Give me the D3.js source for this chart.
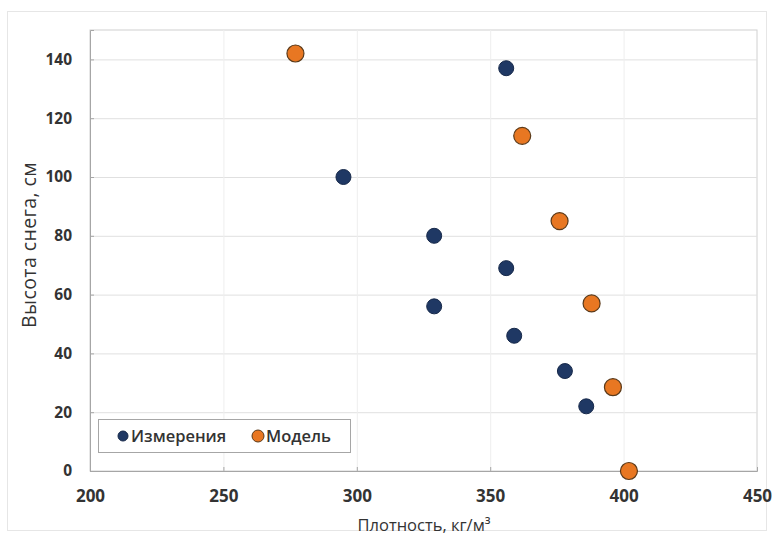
<!DOCTYPE html>
<html><head><meta charset="utf-8">
<script src="https://cdn.jsdelivr.net/npm/d3@7"></script>
<style>body{margin:0;background:#fff}svg{display:block}</style>
</head><body>
<svg id="c" width="775" height="540"></svg>
<script>
const measDensity = [356, 295, 329, 356, 329, 359, 378, 386];
const measHeight  = [137, 100, 80, 69, 56, 46, 34, 22];
const modelDensity = [277, 362, 376, 388, 396, 402];
const modelHeight  = [142, 114, 85, 57, 28.5, 0];
const xTicks = [200, 250, 300, 350, 400, 450];
const yTicks = [0, 20, 40, 60, 80, 100, 120, 140];
const seriesNames = ["Измерения", "Модель"];
const xTitle = "Плотность, кг/м³";
const yTitle = "Высота снега, см";

const svg = d3.select("#c");
const font = "'Open Sans', 'Noto Sans', sans-serif";
const L = 90, R = 757, T = 30, B = 471;
const x = d3.scaleLinear().domain([200, 450]).range([L, R]);
const y = d3.scaleLinear().domain([0, 150]).range([B, T]);

// outer chart border
svg.append("rect").attr("x", 7.5).attr("y", 11.5).attr("width", 759).attr("height", 519)
  .attr("fill", "#fff").attr("stroke", "#e6e6e6");

// plot area
svg.append("rect").attr("x", L).attr("y", T).attr("width", R - L).attr("height", B - T)
  .attr("fill", "none").attr("stroke", "#d0d0d0");

// grid
const g = svg.append("g");
g.selectAll(".hg").data(yTicks.filter(d => d > 0)).enter().append("line")
  .attr("x1", L).attr("x2", R).attr("y1", d => y(d) + 0.5).attr("y2", d => y(d) + 0.5)
  .attr("stroke", "#e0e0e0");
g.selectAll(".vg").data(xTicks.filter(d => d > 200 && d < 450)).enter().append("line")
  .attr("y1", T).attr("y2", B).attr("x1", d => x(d) + 0.5).attr("x2", d => x(d) + 0.5)
  .attr("stroke", "#eeeeee");

// axes
const xAxis = d3.axisBottom(x).tickValues(xTicks).tickSize(-4).tickPadding(19);
const yAxis = d3.axisLeft(y).tickValues(yTicks).tickSize(-4).tickPadding(18);
const xa = svg.append("g").attr("transform", `translate(0,${B})`).call(xAxis);
const ya = svg.append("g").attr("transform", `translate(${L},0)`).call(yAxis);
[xa, ya].forEach(a => {
  a.select(".domain").attr("stroke", "#a6a6a6");
  a.selectAll(".tick line").attr("stroke", "#a6a6a6");
  a.selectAll("text").attr("font-family", font)
    .attr("font-weight", "bold").attr("fill", "#333");
});
xa.selectAll("text").attr("font-size", 17);
ya.selectAll("text").attr("font-size", 15.5);

// titles
svg.append("text").attr("x", 424).attr("y", 531).attr("text-anchor", "middle")
  .attr("font-family", font).attr("font-size", 16.5).attr("fill", "#333").text(xTitle);
svg.append("text").attr("transform", `translate(36,245) rotate(-90)`)
  .attr("text-anchor", "middle").attr("font-family", font).attr("font-size", 19.5)
  .attr("letter-spacing", 0.4).attr("fill", "#333").text(yTitle);

// points
const meas = measDensity.map((d, i) => ({x: d, y: measHeight[i]}));
const model = modelDensity.map((d, i) => ({x: d, y: modelHeight[i]}));
svg.append("g").selectAll("circle").data(meas).enter().append("circle")
  .attr("cx", d => x(d.x)).attr("cy", d => y(d.y)).attr("r", 7.5)
  .attr("fill", "#1f3864").attr("stroke", "#17294a").attr("stroke-width", 1);
svg.append("g").selectAll("circle").data(model).enter().append("circle")
  .attr("cx", d => x(d.x)).attr("cy", d => y(d.y)).attr("r", 8.5)
  .attr("fill", "#e87722").attr("stroke", "#5a3a1a").attr("stroke-width", 1.2);

// legend
const lg = svg.append("g");
lg.append("rect").attr("x", 98.5).attr("y", 419.5).attr("width", 252).attr("height", 33)
  .attr("fill", "#fff").attr("stroke", "#a6a6a6");
const items = [
  {name: seriesNames[0], cx: 123, fill: "#1f3864", stroke: "#17294a", r: 5},
  {name: seriesNames[1], cx: 258, fill: "#e87722", stroke: "#5a3a1a", r: 6}
];
items.forEach(it => {
  lg.append("circle").attr("cx", it.cx).attr("cy", 436).attr("r", it.r)
    .attr("fill", it.fill).attr("stroke", it.stroke);
  lg.append("text").attr("x", it.cx + 8).attr("y", 442).attr("font-family", font)
    .attr("font-size", 16.5).attr("font-weight", 600).attr("fill", "#333").text(it.name);
});
</script>
</body></html>
